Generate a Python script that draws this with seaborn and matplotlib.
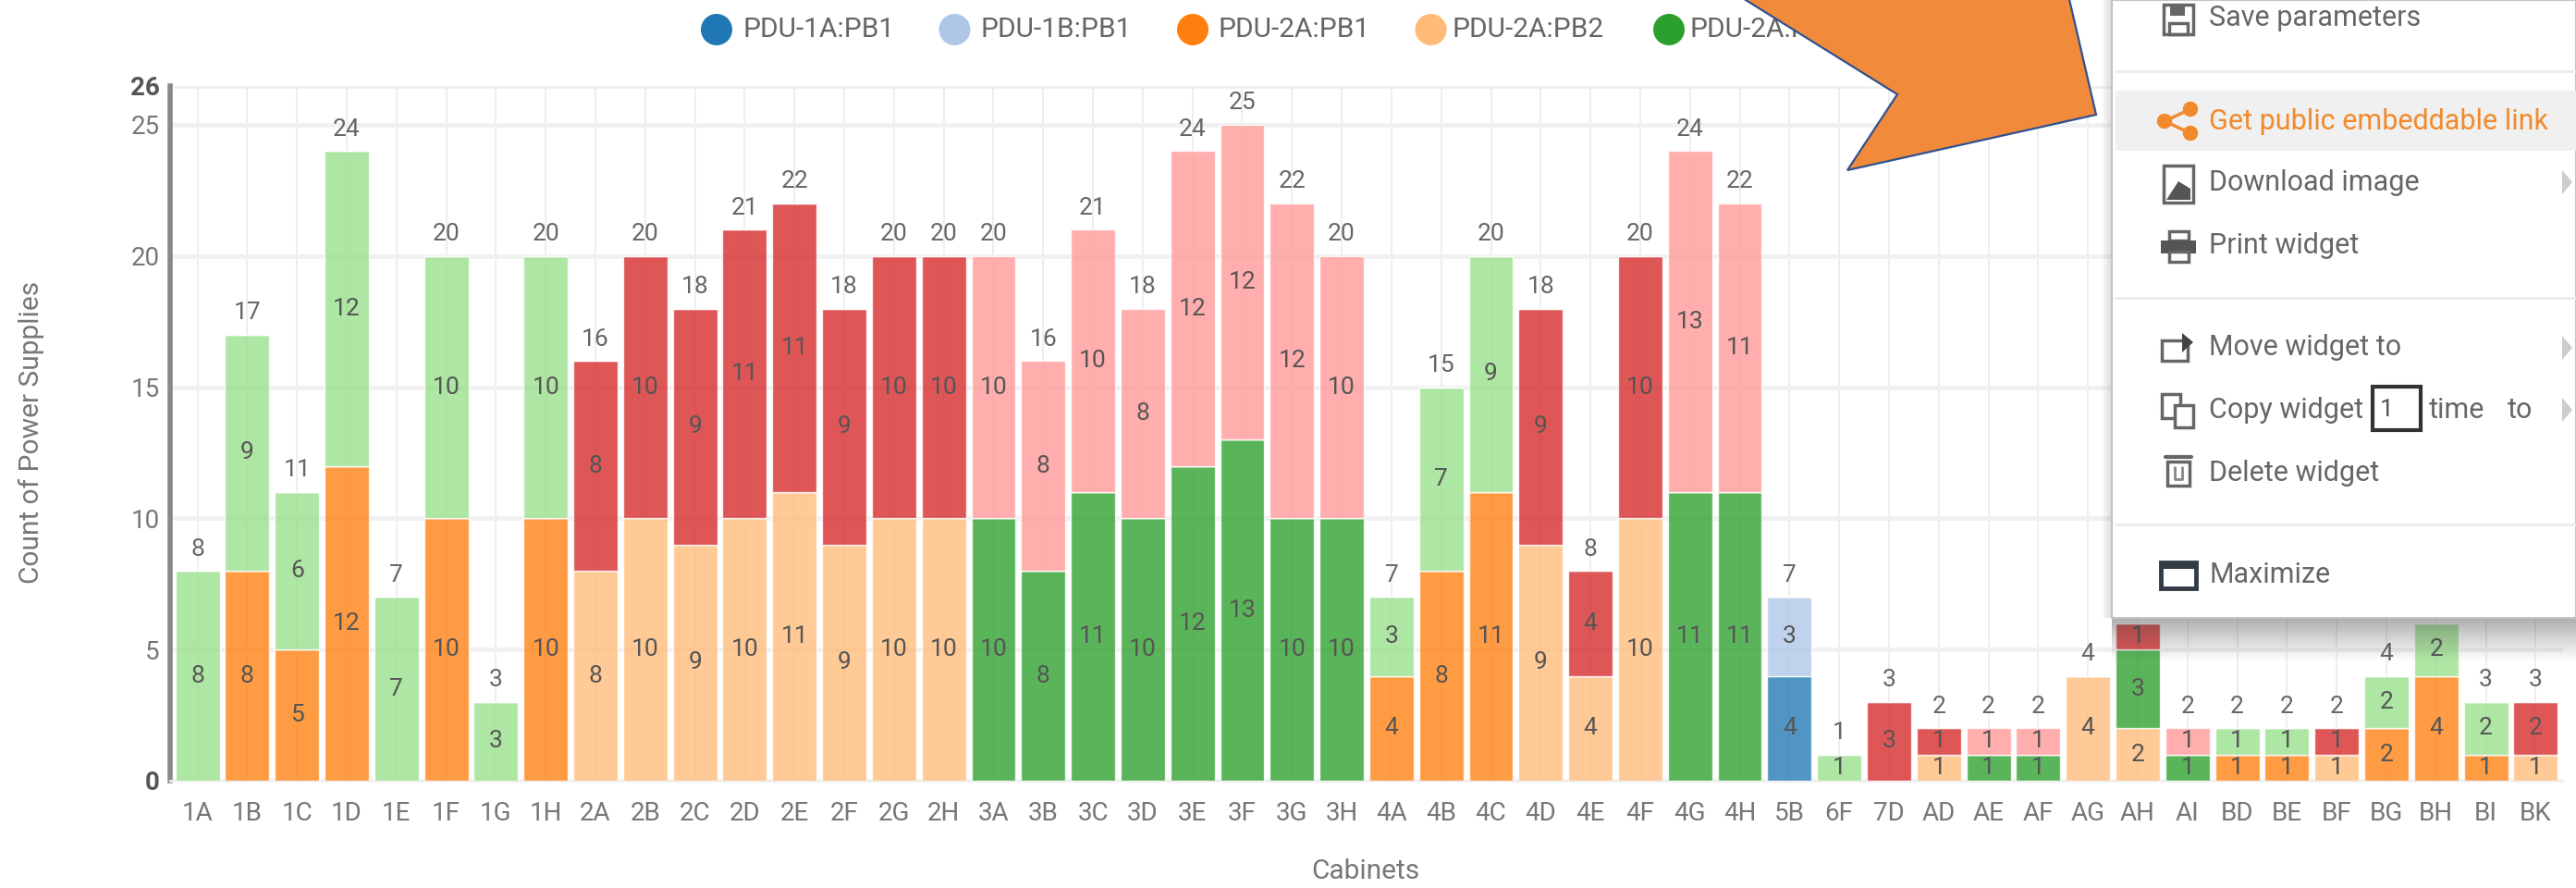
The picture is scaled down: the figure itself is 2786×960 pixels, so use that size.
import numpy as np
import pandas as pd
import matplotlib
matplotlib.use('Agg')
import matplotlib.pyplot as plt
import seaborn as sns
from matplotlib.patches import Circle, Polygon, Rectangle

# cabinets and the count of supplies per feed
cabinets = ['1A', '1B', '1C', '1D', '1E', '1F', '1G', '1H',
            '2A', '2B', '2C', '2D', '2E', '2F', '2G', '2H',
            '3A', '3B', '3C', '3D', '3E', '3F', '3G', '3H',
            '4A', '4B', '4C', '4D', '4E', '4F', '4G', '4H',
            '5B', '6F', '7D', 'AD', 'AE', 'AF', 'AG', 'AH', 'AI',
            'BD', 'BE', 'BF', 'BG', 'BH', 'BI', 'BK']

blue = [0] * 32 + [4] + [0] * 15
light_blue = [0] * 32 + [3] + [0] * 15
orange = [0, 8, 5, 12, 0, 10, 0, 10,
          0, 0, 0, 0, 0, 0, 0, 0,
          0, 0, 0, 0, 0, 0, 0, 0,
          4, 8, 11, 0, 0, 0, 0, 0,
          0, 0, 0, 0, 0, 0, 0, 0, 0,
          1, 1, 0, 2, 4, 1, 0]
light_orange = [0, 0, 0, 0, 0, 0, 0, 0,
                8, 10, 9, 10, 11, 9, 10, 10,
                0, 0, 0, 0, 0, 0, 0, 0,
                0, 0, 0, 9, 4, 10, 0, 0,
                0, 0, 0, 1, 0, 0, 4, 2, 0,
                0, 0, 1, 0, 0, 0, 1]
green = [0, 0, 0, 0, 0, 0, 0, 0,
         0, 0, 0, 0, 0, 0, 0, 0,
         10, 8, 11, 10, 12, 13, 10, 10,
         0, 0, 0, 0, 0, 0, 11, 11,
         0, 0, 0, 0, 1, 1, 0, 3, 1,
         0, 0, 0, 0, 0, 0, 0]
light_green = [8, 9, 6, 12, 7, 10, 3, 10,
               0, 0, 0, 0, 0, 0, 0, 0,
               0, 0, 0, 0, 0, 0, 0, 0,
               3, 7, 9, 0, 0, 0, 0, 0,
               0, 1, 0, 0, 0, 0, 0, 0, 0,
               1, 1, 0, 2, 2, 2, 0]
red = [0, 0, 0, 0, 0, 0, 0, 0,
       8, 10, 9, 11, 11, 9, 10, 10,
       0, 0, 0, 0, 0, 0, 0, 0,
       0, 0, 0, 9, 4, 10, 0, 0,
       0, 0, 3, 1, 0, 0, 0, 1, 0,
       0, 0, 1, 0, 0, 0, 2]
pink = [0, 0, 0, 0, 0, 0, 0, 0,
        0, 0, 0, 0, 0, 0, 0, 0,
        10, 8, 10, 8, 12, 12, 12, 10,
        0, 0, 0, 0, 0, 0, 13, 11,
        0, 0, 0, 0, 1, 1, 0, 0, 1,
        0, 0, 0, 0, 0, 0, 0]

series = [blue, light_blue, orange, light_orange, green, light_green, red, pink]
colors = ['#1f77b4', '#aec7e8', '#ff7f0e', '#ffbb78',
          '#2ca02c', '#98df8a', '#d62728', '#ff9896']

legend_labels = ['PDU-1A:PB1', 'PDU-1B:PB1', 'PDU-2A:PB1', 'PDU-2A:PB2', 'PDU-2A:PB3']
y_ticks = [0, 5, 10, 15, 20, 25]

W, H = 2786, 960
sns.set_theme(style='white')
plt.rcParams['font.family'] = ['Roboto', 'DejaVu Sans']

fig = plt.figure(figsize=(W / 100, H / 100), dpi=100)
ax = fig.add_axes([184 / W, 1 - 844 / H, (2772 - 184) / W, (844 - 93) / H])

# stacked bars, one seaborn call per feed
bottom = np.zeros(len(cabinets))
for vals, col in zip(series, colors):
    df = pd.DataFrame({'cabinet': cabinets, 'count': vals})
    sns.barplot(data=df, x='cabinet', y='count', order=cabinets, bottom=bottom,
                color=col, saturation=1, alpha=0.78, width=0.89, ax=ax, zorder=3)
    for i, v in enumerate(vals):
        if v > 0:
            ax.text(i, bottom[i] + v / 2, str(v), ha='center', va='center',
                    fontsize=19, color='#555555', zorder=5)
    bottom = bottom + np.array(vals)

# totals above each stack
for i, total in enumerate(bottom):
    ax.annotate(str(int(total)), (i, total), xytext=(0, 17), textcoords='offset points',
                ha='center', va='center', fontsize=19, color='#666666', zorder=5)

ax.set_xlim(-0.55, 47.55)
ax.set_ylim(0, 26.48)
ax.set_yticks(y_ticks + [26.48])
ax.set_yticklabels([str(t) for t in y_ticks] + ['26'])
ax.tick_params(axis='both', length=0, labelsize=20, labelcolor='#777777')
ax.tick_params(axis='x', pad=16)
ax.tick_params(axis='y', pad=8)
for lab, txt in zip(ax.get_yticklabels(), ['0', '', '', '', '', '', '26']):
    if txt:
        lab.set_fontweight('bold')
        lab.set_color('#555555')

ax.set_axisbelow(True)
ax.yaxis.grid(True, color='#f1f1f1', linewidth=3.5)
ax.xaxis.grid(True, color='#ebebeb', linewidth=1.2)
for s in ['top', 'right']:
    ax.spines[s].set_visible(False)
ax.spines['bottom'].set_color('#f0f0f0')
ax.spines['bottom'].set_linewidth(2)
ax.spines['left'].set_color('#888888')
ax.spines['left'].set_linewidth(4)
ax.set_xlabel('')
ax.set_ylabel('')

# everything outside the plot goes on a pixel overlay
ov = fig.add_axes([0, 0, 1, 1], zorder=10)
ov.patch.set_alpha(0)
ov.axis('off')

ov.text(34, 467, 'Count of Power Supplies', rotation=90, ha='center', va='center',
        fontsize=21.5, color='#777777')
ov.text(1477, 942, 'Cabinets', ha='center', va='center', fontsize=21.5, color='#777777')

# legend
for k, (lab, col) in enumerate(zip(legend_labels, colors[:5])):
    ov.add_patch(Circle((775 + k * 257.5, 32), 17, color=col, lw=0))
    ov.text(803 + k * 257.5 - (k >= 3) * 5, 32, lab, ha='left', va='center', fontsize=21.5, color='#666666')

# shadow of the context menu
shade = np.zeros((50, 2, 4))
shade[:, :, :3] = 0.25
shade[:, :, 3] = np.linspace(0.42, 0, 50)[:, None]
ov.imshow(shade, extent=(2284, W, 715, 668), aspect='auto', zorder=2, interpolation='bilinear')
side = np.zeros((2, 12, 4))
side[:, :, :3] = 0.25
side[:, :, 3] = np.linspace(0, 0.18, 12)[None, :]
ov.imshow(side, extent=(2272, 2284, 668, 0), aspect='auto', zorder=2, interpolation='bilinear')

# context menu
ov.add_patch(Rectangle((2284, 0), W - 2284, 668, fc='white', ec='#c4c4c4', lw=1.5, zorder=3))
ov.add_patch(Rectangle((2288, 98), W - 2288, 65, fc='#f0f0f0', ec='none', zorder=3))
for y in [77, 322, 567]:
    ov.plot([2288, W], [y, y], color='#efeae8', lw=2, zorder=4)

menu_items = [('Save parameters', 20), ('Get public embeddable link', 131), ('Download image', 198),
              ('Print widget', 265), ('Move widget to', 376), ('Copy widget', 443),
              ('Delete widget', 511), ('Maximize', 622)]
for lab, y in menu_items:
    col = '#f28a2c' if lab.startswith('Get') else '#666666'
    ov.text(2389, y, lab, ha='left', va='center', fontsize=22, color=col, zorder=5)
ov.text(2627, 443, 'time', ha='left', va='center', fontsize=22, color='#666666', zorder=5)
ov.text(2712, 443, 'to', ha='left', va='center', fontsize=22, color='#666666', zorder=5)
ov.add_patch(Rectangle((2566, 418), 52, 47, fc='white', ec='#333333', lw=3, zorder=5))
ov.text(2574, 443, '1', ha='left', va='center', fontsize=19, color='#555555', zorder=6)

for y in [197, 376, 443]:
    ov.add_patch(Polygon([(2771, y - 13), (2782, y), (2771, y + 13)], fc='#cccccc', ec='none', zorder=5))

# menu icons
icon = dict(fc='none', ec='#666666', lw=2.5, zorder=5)
ov.add_patch(Rectangle((2340, 5), 32, 32, **icon))
ov.add_patch(Rectangle((2347, 5), 16, 12, fc='#666666', ec='none', zorder=5))
ov.add_patch(Rectangle((2346, 25), 20, 12, **icon))
for cx, cy in [(2369, 118), (2341, 131), (2369, 144)]:
    ov.add_patch(Circle((cx, cy), 7.5, color='#f28a2c', zorder=5))
ov.plot([2369, 2341, 2369], [118, 131, 144], color='#f28a2c', lw=2.5, zorder=5)
ov.add_patch(Rectangle((2340, 179), 32, 40, **icon))
ov.add_patch(Polygon([(2343, 216), (2369, 216), (2369, 204), (2356, 196)], fc='#555555', ec='none', zorder=5))
ov.add_patch(Rectangle((2346, 250), 21, 10, **icon))
ov.add_patch(Rectangle((2337, 260), 38, 14, fc='#555555', ec='none', zorder=5))
ov.add_patch(Rectangle((2346, 272), 21, 11, fc='white', ec='#666666', lw=2.5, zorder=6))
ov.add_patch(Rectangle((2338, 368), 28, 22, **icon))
ov.add_patch(Polygon([(2360, 360), (2372, 370), (2360, 381)], fc='#444444', ec='none', zorder=6))
ov.add_patch(Rectangle((2338, 426), 20, 26, **icon))
ov.add_patch(Rectangle((2352, 438), 20, 24, fc='white', ec='#666666', lw=2.5, zorder=6))
ov.add_patch(Rectangle((2344, 499), 24, 26, **icon))
ov.plot([2342, 2370], [494, 494], color='#666666', lw=3, zorder=5)
ov.plot([2352, 2352, 2360, 2360], [505, 518, 518, 505], color='#888888', lw=2, zorder=5)
ov.add_patch(Rectangle((2337, 608), 38, 28, fc='none', ec='#333b45', lw=3.5, zorder=5))
ov.add_patch(Rectangle((2337, 608), 38, 7, fc='#333b45', ec='none', zorder=5))

# callout arrow pasted on top
arrow = [(1880, -5), (2052, 102), (1998, 184), (2267, 124), (2237, -5)]
ov.add_patch(Polygon(arrow, fc='#f28a3c', ec='#2f528f', lw=1.6, zorder=7))

ov.set_xlim(0, W)
ov.set_ylim(H, 0)

fig.savefig('out.png', dpi=100, facecolor='white')
